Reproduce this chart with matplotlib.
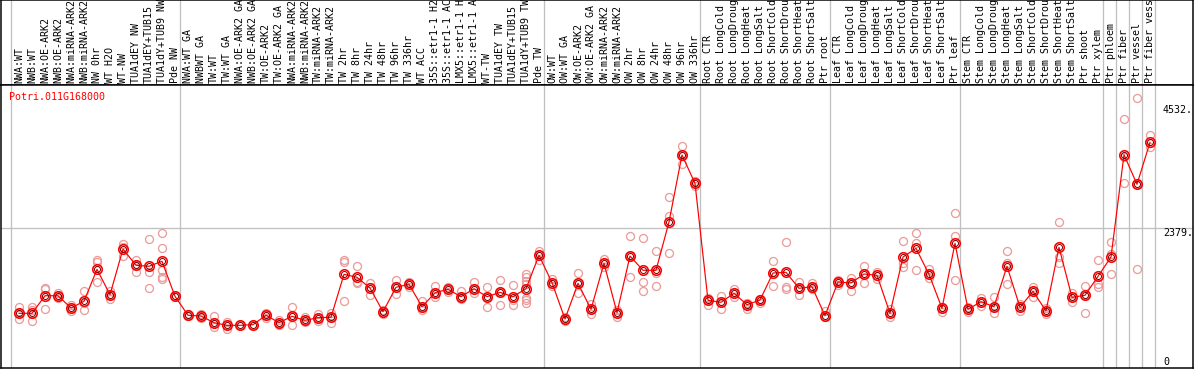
import numpy as np
import matplotlib
matplotlib.use('Agg')
import matplotlib.pyplot as plt

# gene / sample names (as far as they are visible in the header)
gene = 'Potri.011G168000'
samples = [
    'NWA:WT', 'NWB:WT', 'NWA:OE-ARK2', 'NWB:OE-ARK2', 'NWA:miRNA-ARK2', 'NWB:miRNA-ARK2',
    'NW 0hr', 'WT H2O', 'WT-NW', 'TUA1dEY NW', 'TUA1dEY+TUB15', 'TUA1dY+TUB9 NW', 'Pde NW',
    'NWA:WT GA', 'NWBWT GA', 'TW:WT', 'TW:WT GA', 'NWA:OE-ARK2 GA', 'NWB:OE-ARK2 GA',
    'TW:OE-ARK2', 'TW:OE-ARK2 GA', 'NWA:miRNA-ARK2', 'NWB:miRNA-ARK2', 'TW:miRNA-ARK2',
    'TW:miRNA-ARK2', 'TW 2hr', 'TW 8hr', 'TW 24hr', 'TW 48hr', 'TW 96hr', 'TW 336hr',
    'WT ACC', '35S::etr1-1 H2', '35S::etr1-1 AC', 'LMX5::etr1-1 H', 'LMX5::etr1-1 A',
    'WT-TW', 'TUA1dEY TW', 'TUA1dEY+TUB15', 'TUA1dY+TUB9 TW', 'Pde TW',
    'OW:WT', 'OW:WT GA', 'OW:OE-ARK2', 'OW:OE-ARK2 GA', 'OW:miRNA-ARK2', 'OW:miRNA-ARK2',
    'OW 2hr', 'OW 8hr', 'OW 24hr', 'OW 48hr', 'OW 96hr', 'OW 336hr',
    'Root CTR', 'Root LongCold', 'Root LongDroug', 'Root LongHeat', 'Root LongSalt',
    'Root ShortCold', 'Root ShortDrou', 'Root ShortHeat', 'Root ShortSalt', 'Ptr root',
    'Leaf CTR', 'Leaf LongCold', 'Leaf LongDroug', 'Leaf LongHeat', 'Leaf LongSalt',
    'Leaf ShortCold', 'Leaf ShortDrou', 'Leaf ShortHeat', 'Leaf ShortSalt', 'Ptr leaf',
    'Stem CTR', 'Stem LongCold', 'Stem LongDroug', 'Stem LongHeat', 'Stem LongSalt',
    'Stem ShortCold', 'Stem ShortDrou', 'Stem ShortHeat', 'Stem ShortSalt', 'Ptr shoot',
    'Ptr xylem', 'Ptr phloem', 'Ptr fiber', 'Ptr vessel', 'Ptr fiber vess',
]

# mean expression per sample
mean_expr = [
    892, 892, 1199, 1199, 985, 1102, 1659, 1217, 2013, 1729, 1712, 1799, 1189,
    858, 845, 729, 683, 683, 694, 858, 729, 840, 770, 816, 823, 1572, 1520, 1333,
    920, 1346, 1398, 1007, 1251, 1311, 1182, 1321, 1182, 1258, 1182, 1321, 1903,
    1426, 793, 1415, 962, 1764, 903, 1891, 1642, 1642, 2484, 3652, 3158,
    1119, 1084, 1241, 1042, 1124, 1595, 1607, 1328, 1356, 851,
    1438, 1421, 1577, 1555, 892, 1874, 2025, 1572, 980, 2113,
    962, 1095, 1007, 1712, 997, 1276, 933, 2043, 1171, 1206, 1537,
    1874, 3657, 3141, 3873,
]

# individual replicates
replicates = [
    [996, 892, 799], [1008, 950, 752], [1333, 1310, 967], [1240, 1200, 1153],
    [1043, 985, 927], [1281, 1078, 944], [1821, 1787, 1438], [1287, 1217, 1147],
    [2094, 2054, 1897], [1821, 1728, 1618], [2182, 1618, 1328],
    [2286, 2025, 1647, 1519, 1496], [1188],
    [874, 857, 845], [880, 845, 810], [845, 718, 659], [741, 683, 625], [683], [694],
    [892, 857, 810], [776, 729, 683], [996, 840, 694], [822, 770, 741], [880, 816, 764],
    [892, 822, 729], [1821, 1792, 1101], [1717, 1438, 1415], [1426, 1345, 1217],
    [950, 915, 880], [1473, 1345, 1223], [1438, 1403, 1357], [1113, 1008, 950],
    [1368, 1252, 1171], [1345, 1310, 1269], [1287, 1182, 1136], [1438, 1322, 1240],
    [1345, 1182, 996], [1473, 1258, 1031], [1380, 1124, 1043],
    [1577, 1519, 1461, 1403, 1153, 1124, 1078], [1984, 1903, 1821],
    [1496, 1426, 1368], [822, 793, 764], [1589, 1415, 1240], [1055, 962, 880],
    [1833, 1763, 1705], [950, 903, 834], [2240, 1891, 1519], [2205, 1438, 1275],
    [1972, 1589, 1368], [2914, 2588, 1949], [3808, 3652, 3495], [3193, 3158, 3111],
    [1153, 1118, 1043], [1194, 1084, 973], [1322, 1240, 1171], [1078, 1043, 962],
    [1147, 1124, 1066], [1798, 1612, 1368], [2129, 1357, 1322], [1438, 1328, 1217],
    [1415, 1357, 1322], [927, 851, 822],
    [1473, 1438, 1380], [1508, 1421, 1275], [1717, 1577, 1426], [1618, 1548, 1484],
    [962, 892, 822], [2147, 1763, 1705], [2286, 2124, 1641], [1665, 1572, 1502],
    [1008, 979, 921], [2635, 2240, 1467],
    [1008, 962, 915], [1159, 1095, 1020], [1182, 1008, 892], [1972, 1775, 1397],
    [1055, 996, 938], [1356, 1275, 1171], [985, 933, 874], [2478, 1880, 1775],
    [1240, 1171, 1095], [1368, 1206, 892], [1816, 1403, 1357],
    [2130, 1926, 1578], [4273, 3611, 3158], [4639, 3141, 1659], [3995, 3855, 3797],
]

axis_marks = [4532, 2379, 0]
group_starts = [0, 13, 41, 53, 63, 73, 84, 85, 86, 87, 88]

W, H = 1194, 370
PX = 0.72  # one pixel in points
grey = '#c0c0c0'
plt.rcParams['font.family'] = ['DejaVu Sans Mono']
fs = 7.2

fig = plt.figure(figsize=(W / 100, H / 100), dpi=100)


def px_axes(x0, y0, x1, y1):
    return fig.add_axes([x0 / W, 1 - y1 / H, (x1 - x0) / W, (y1 - y0) / H])


head = px_axes(1, 0, 1193, 85)
ax = px_axes(1, 85, 1193, 368)

xlim = ((1 - 19) / 13, (1193 - 19) / 13)
for a in (head, ax):
    a.set_xlim(*xlim)
    a.set_xticks([])
    a.set_yticks([])
    for s in a.spines.values():
        s.set_linewidth(1.5 * PX)
        s.set_color('black')
    for g in group_starts:
        a.axvline(g - 0.65, color=grey, lw=1.3 * PX, zorder=0)

head.set_ylim(0, 85)
x = np.arange(len(samples))
for i, name in enumerate(samples):
    head.text(i, 2, name, rotation=90, ha='center', va='bottom',
              fontsize=fs, color='black', clip_on=False)

ax.set_ylim(-61, 4872)
ax.axhline(axis_marks[1], color=grey, lw=1.3 * PX, zorder=0)

# replicates
rx = np.concatenate([[i] * len(r) for i, r in enumerate(replicates)])
ry = np.concatenate(replicates)
ax.plot(rx, ry, ls='none', marker='o', ms=8 * PX, mfc='none', mec='#eb9c9c',
        mew=1.3 * PX, zorder=2)

# mean line
ax.plot(x, mean_expr, color='red', lw=1.2 * PX, zorder=3)
ax.plot(x, mean_expr, ls='none', marker='o', ms=9.5 * PX, mfc='none', mec='red',
        mew=1.6 * PX, zorder=4)
ax.plot(x, mean_expr, ls='none', marker='o', ms=6 * PX, mfc='none', mec='#7a0000',
        mew=1.0 * PX, zorder=5)

# value labels on the right
lab_x = (1163 - 19) / 13
for v in axis_marks:
    ax.text(lab_x, v, f'{v}.' if v else '0', ha='left',
            va='top' if v else 'baseline', fontsize=fs, color='black')

ax.text((9.5 - 1) / 1192, (368 - 97) / 283, gene, transform=ax.transAxes,
        ha='left', va='center', fontsize=fs, color='red')

fig.savefig('out.png', dpi=100)
